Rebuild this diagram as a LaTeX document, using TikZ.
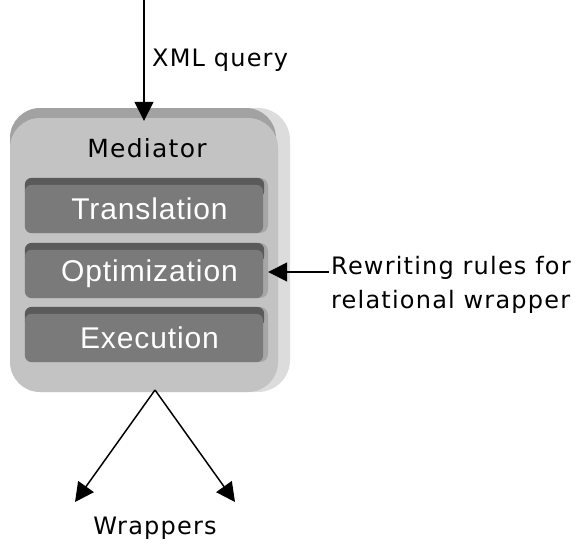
\documentclass[tikz,border=0pt]{standalone}
\usepackage{fontspec}
\setmainfont{DejaVu Sans}[LetterSpace=5]
\newfontfamily\modfont{Liberation Sans}[LetterSpace=3]
\usetikzlibrary{arrows.meta}
\usetikzlibrary{positioning}

\definecolor{faccia}{HTML}{C3C3C3}
\definecolor{bordosup}{HTML}{A2A2A2}
\definecolor{bordodx}{HTML}{DCDCDC}
\definecolor{modfaccia}{HTML}{7A7A7A}
\definecolor{modsup}{HTML}{5A5A5A}
\definecolor{moddx}{HTML}{A6A6A6}

\begin{document}
\begin{tikzpicture}[x=1pt, y=-1pt,
    freccia/.style={-{Triangle[length=19pt,width=19pt]}, line width=1.5pt},
    etichetta/.style={font=\fontsize{24}{34}\selectfont, inner sep=0pt},
    modulo/.style={fill=moddx, rounded corners=8pt, minimum width=243pt,
        minimum height=55pt, inner sep=0pt},
    testomod/.style={text=white, font=\modfont\fontsize{30}{36}\selectfont}]
\useasboundingbox (0,0) rectangle (579,552);

% mediatore
\fill[bordodx, rounded corners=32pt] (10,108) rectangle (290,392);
\fill[bordosup, rounded corners=30pt] (10,108) rectangle (276,170);
\node[fill=faccia, rounded corners=30pt, minimum width=268pt,
    minimum height=274pt, inner sep=0pt] (med) at (144,255) {};
\node[etichetta, font=\fontsize{25}{30}\selectfont] (medtxt) at (147,148) {Mediator};

% moduli
\foreach \y/\testo/\nome in {178/Translation/trans, 243/Optimization/opt, 307/Execution/exec} {
    \node[modulo] (\nome) at (146.5,\y+27.5) {};
    \fill[modsup, rounded corners=7pt] (\nome.north west) rectangle ([xshift=-4pt,yshift=-20pt]\nome.north east);
    \fill[modfaccia, rounded corners=7pt] ([yshift=-7pt]\nome.north west) rectangle ([xshift=-5pt]\nome.south east);
    \node[testomod] (\nome-txt) at ([xshift=3pt,yshift=-3pt]\nome.center) {\testo};
}

% query
\coordinate (qin) at (144,0);
\draw[freccia, shorten >=-3pt] (qin) -- (qin |- med.north);
\node[etichetta, anchor=west] (xml) at (152,60) {XML query};

% regole
\coordinate (rw) at (329,272);
\draw[freccia] (rw) -- (rw -| opt.east);
\node[etichetta, anchor=west, align=left] (regole) at (331,285) {Rewriting rules for\\relational wrapper};

% wrapper
\coordinate (wsrc) at (155,390);
\coordinate (wsx) at (75,502);
\coordinate (wdx) at (235,502);
\draw[freccia] (wsrc) -- (wsx);
\draw[freccia] (wsrc) -- (wdx);
\node[etichetta] (wrap) at (155,528) {Wrappers};
\end{tikzpicture}
\end{document}
